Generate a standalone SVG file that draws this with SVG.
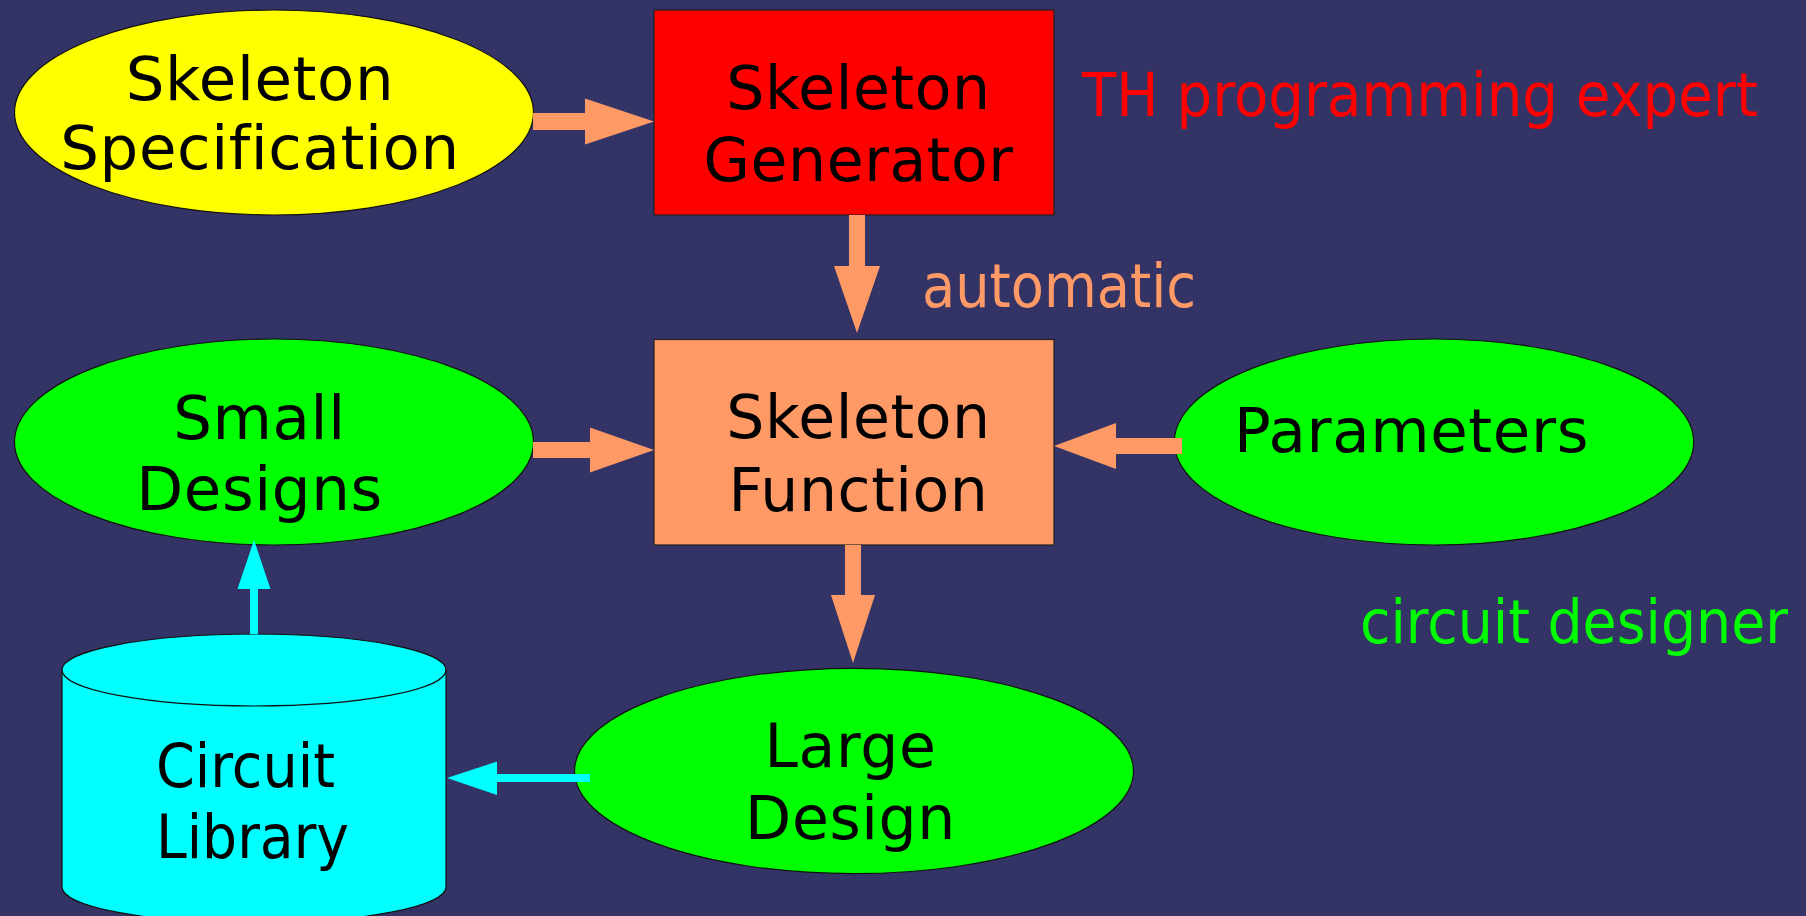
<svg xmlns="http://www.w3.org/2000/svg" width="1806" height="916" viewBox="0 0 1806 916">
  <style>
    .box { stroke: #222222; stroke-width: 1.2; }
    .oval { stroke: #111111; stroke-width: 1.2; }
    .t { font-family: "DejaVu Sans", "Liberation Sans", sans-serif; font-size: 60px; fill: #000000; text-anchor: middle; letter-spacing: 0.6px; }
    .t61 { font-size: 61px; }
    .cond { font-family: "DejaVu Sans Condensed", "DejaVu Sans", "Liberation Sans", sans-serif; font-stretch: condensed; font-size: 61px; letter-spacing: 0; }
    .lbl { text-anchor: start; }
    .salmon { fill: #FF9966; }
    .cyan { fill: #00FFFF; }
  </style>

  <rect x="0" y="0" width="1806" height="916" fill="#333366"/>

  <g id="skeleton-specification">
    <ellipse class="oval" cx="274" cy="112.5" rx="259.5" ry="102.5" fill="#FFFF00"/>
    <text class="t t61" x="260" y="99.5">Skeleton</text>
    <text class="t t61" x="260" y="168.5">Specification</text>
  </g>

  <g id="skeleton-generator">
    <rect class="box" x="654" y="10" width="400" height="205" fill="#FF0000"/>
    <text class="t" x="858.5" y="108.7">Skeleton</text>
    <text class="t" x="858.5" y="180.7">Generator</text>
  </g>

  <g id="skeleton-function">
    <rect class="box" x="654" y="339.5" width="400" height="205.5" fill="#FF9966"/>
    <text class="t" x="858.5" y="438.3">Skeleton</text>
    <text class="t" x="858.5" y="510.7">Function</text>
  </g>

  <g id="small-designs">
    <ellipse class="oval" cx="274" cy="442" rx="259.5" ry="103" fill="#00FF00"/>
    <text class="t t61" x="259.5" y="439">Small</text>
    <text class="t t61" x="259.5" y="509.5">Designs</text>
  </g>

  <g id="parameters">
    <ellipse class="oval" cx="1434" cy="442" rx="259.7" ry="103" fill="#00FF00"/>
    <text class="t t61" x="1411.5" y="451.7">Parameters</text>
  </g>

  <g id="large-design">
    <ellipse class="oval" cx="854" cy="771" rx="279.5" ry="102.7" fill="#00FF00"/>
    <text class="t" x="850.5" y="767.3">Large</text>
    <text class="t" x="850.5" y="839.3">Design</text>
  </g>

  <g id="circuit-library">
    <path class="oval" d="M62,670 L62,887 A192,36 0 0 0 446,887 L446,670 Z" fill="#00FFFF"/>
    <ellipse class="oval" cx="254" cy="670" rx="192" ry="36" fill="#00FFFF"/>
    <text class="t cond lbl" x="156" y="786.7" textLength="179" lengthAdjust="spacingAndGlyphs">Circuit</text>
    <text class="t cond lbl" x="156" y="858.3" textLength="193" lengthAdjust="spacingAndGlyphs">Library</text>
  </g>

  <g id="connectors">
    <!-- specification to generator -->
    <polygon class="salmon" points="533,113 585,113 585,98.5 654,121.5 585,144.5 585,130 533,130"/>
    <!-- generator to function -->
    <polygon class="salmon" points="849,215 865,215 865,266 880,266 857,333 834,266 849,266"/>
    <!-- small designs to function -->
    <polygon class="salmon" points="533,442 590,442 590,427.5 654,450 590,472.5 590,458 533,458"/>
    <!-- parameters to function -->
    <polygon class="salmon" points="1182,438 1116,438 1116,423 1054,446 1116,469 1116,454 1182,454"/>
    <!-- function to large design -->
    <polygon class="salmon" points="845,545 861,545 861,595 875,595 853,663 831,595 845,595"/>
    <!-- large design to library -->
    <polygon class="cyan" points="590,774 497,774 497,761.5 447,778 497,795 497,782 590,782"/>
    <!-- library to small designs -->
    <polygon class="cyan" points="250,634 250,589 237.5,589 254,540 270.5,589 258,589 258,634"/>
  </g>

  <g id="labels">
    <text class="t cond lbl" x="1082" y="116" style="fill:#FF0000" textLength="676" lengthAdjust="spacingAndGlyphs">TH programming expert</text>
    <text class="t cond lbl" x="922" y="306.7" style="fill:#FF9966" textLength="274" lengthAdjust="spacingAndGlyphs">automatic</text>
    <text class="t cond lbl" x="1360" y="643.3" style="fill:#00FF00" textLength="428" lengthAdjust="spacingAndGlyphs">circuit designer</text>
  </g>
</svg>
